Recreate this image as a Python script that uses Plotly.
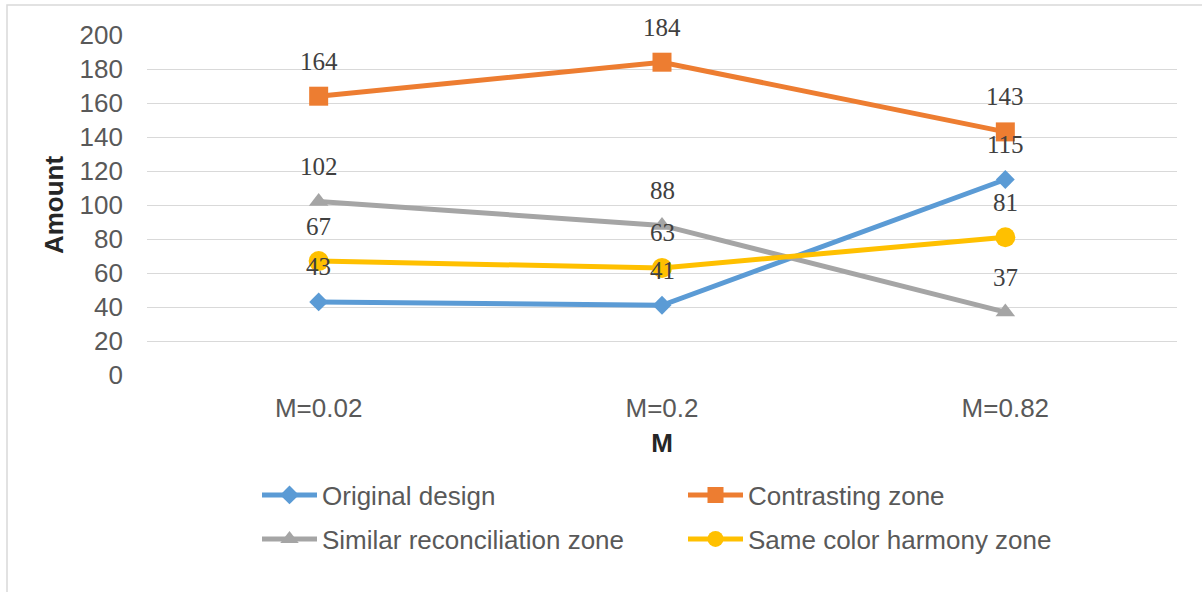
import plotly.graph_objects as go

# Category axis and series values
categories = ["M=0.02", "M=0.2", "M=0.82"]
original_design = [43, 41, 115]
contrasting_zone = [164, 184, 143]
similar_reconciliation = [102, 88, 37]
same_color_harmony = [67, 63, 81]

series = [
    ("Original design", original_design, "#5B9BD5", "diamond", 14.5, "legend"),
    ("Contrasting zone", contrasting_zone, "#ED7D31", "square", 19, "legend"),
    ("Similar reconciliation zone", similar_reconciliation, "#A5A5A5", "triangle-up", 17, "legend2"),
    ("Same color harmony zone", same_color_harmony, "#FFC000", "circle", 20, "legend2"),
]

W, H = 1202, 592
L, R, T, B = 147, 25, 35, 217
plot_w = W - L - R
plot_h = H - T - B

fig = go.Figure()
annotations = []
for name, vals, color, symbol, msize, leg in series:
    fig.add_trace(go.Scatter(
        x=categories, y=vals, name=name, mode="lines+markers",
        line=dict(color=color, width=5),
        marker=dict(symbol=symbol, size=msize, color=color),
        legend=leg,
    ))
    for c, v in zip(categories, vals):
        annotations.append(dict(
            x=c, y=v, xref="x", yref="y", text=str(v), showarrow=False,
            yshift=35, yanchor="middle",
            font=dict(family="Liberation Serif", size=25, color="#404040"),
        ))

def px_x(p):
    return (p - L) / plot_w

def px_y(p):
    return (H - B - p) / plot_h

axis_font = dict(family="Liberation Sans", size=26, color="#595959")
legend_font = dict(family="Liberation Sans", size=26, color="#595959")
title_font = dict(family="Liberation Sans", size=26, color="#262626", weight="bold")

fig.update_layout(
    width=W, height=H,
    margin=dict(l=L, r=R, t=T, b=B),
    paper_bgcolor="white", plot_bgcolor="white",
    showlegend=True,
    xaxis=dict(
        type="category", range=[-0.5, 2.5],
        showgrid=False, showline=False, zeroline=False,
        tickfont=axis_font, ticklabelstandoff=15,
        title=dict(text="M", font=title_font, standoff=11),
    ),
    yaxis=dict(
        range=[0, 200], dtick=20, tick0=0,
        showgrid=True, gridcolor="#D9D9D9", gridwidth=1.3,
        zeroline=False, showline=False,
        tickfont=axis_font, ticklabelstandoff=23,
        title=dict(text="Amount", font=title_font, standoff=8),
    ),
    legend=dict(
        orientation="h", x=px_x(257), y=px_y(495), xanchor="left", yanchor="middle",
        font=legend_font, entrywidth=356, entrywidthmode="pixels",
        bgcolor="rgba(0,0,0,0)", itemwidth=55,
    ),
    legend2=dict(
        orientation="h", x=px_x(257), y=px_y(539), xanchor="left", yanchor="middle",
        font=legend_font, entrywidth=356, entrywidthmode="pixels",
        bgcolor="rgba(0,0,0,0)", itemwidth=55,
    ),
    annotations=annotations,
    shapes=[dict(
        type="rect", xref="paper", yref="paper",
        x0=px_x(7), x1=px_x(W + 20), y0=px_y(H + 20), y1=px_y(5),
        line=dict(color="#D9D9D9", width=1.5), fillcolor="rgba(0,0,0,0)",
        layer="below",
    )],
)

fig.write_html("out.html")
